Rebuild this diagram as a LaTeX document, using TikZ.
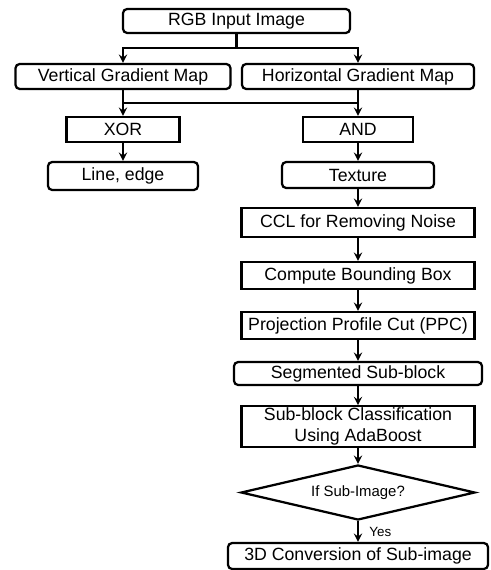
\documentclass[tikz,border=0pt]{standalone}
\usepackage{fontspec}
\setmainfont{Liberation Sans}
\usepackage{tikz}
\usetikzlibrary{positioning, calc}
\usetikzlibrary{arrows,shapes,backgrounds}

\begin{document}
\begin{tikzpicture}[x=0.025cm,y=-0.025cm,>=stealth,line width=1.6pt]
\tikzstyle{stepbox}=[draw, rectangle, minimum width=5.825cm, minimum height=0.675cm,
                     inner sep=1pt, font=\fontsize{12.6}{15}\selectfont]
\tikzstyle{roundbox}=[stepbox, rounded corners=3pt]
\tikzstyle{decision}=[draw, diamond, shape aspect=4.25, minimum width=5.85cm, minimum height=1.375cm,
                      inner sep=0pt, font=\fontsize{10.6}{12}\selectfont]
\useasboundingbox (0,0) rectangle (491,570);
% top part
\node [roundbox, minimum width=5.675cm, minimum height=0.6cm] (rgb) at (236.5,21) {RGB Input Image};
\node [roundbox, minimum width=5.375cm, minimum height=0.625cm] (vgm) at (123,76.5) {Vertical Gradient Map};
\node [roundbox, minimum width=5.8cm, minimum height=0.625cm] (hgm) at (358,76.5) {Horizontal Gradient Map};
\node [stepbox, minimum width=2.825cm, minimum height=0.625cm] (xor) at (123,129.5) {XOR};
\node [stepbox, minimum width=2.75cm, minimum height=0.625cm] (and) at (358,129.5) {AND};
\node [roundbox, minimum width=3.75cm, minimum height=0.7cm] (line) at (123,176) {Line, edge};
\node [roundbox, minimum width=3.8cm, minimum height=0.65cm] (texture) at (358,175) {Texture};
% right column
\node [stepbox, minimum height=0.725cm] (ccl) at (358,222.5) {CCL for Removing Noise};
\node [stepbox] (cbb) at (358,275.5) {Compute Bounding Box};
\node [stepbox] (ppc) at (358,325.5) {Projection Profile Cut (PPC)};
\node [roundbox, minimum width=6.2cm, minimum height=0.575cm] (seg) at (358,373.5) {Segmented Sub-block};
\node [stepbox, minimum height=0.975cm, align=center] (cls) at (358,426.5) {Sub-block Classification\\Using AdaBoost};
\node [decision] (sub) at (358,492.5) {If Sub-Image?};
\node [roundbox, minimum width=6.5cm, minimum height=0.65cm] (conv) at (358,556) {3D Conversion of Sub-image};
% connectors
\coordinate (split) at (236.5,48);
\coordinate (jl) at (123,103);
\coordinate (jr) at (358,103);
\draw (rgb.south) -- (split);
\draw [->] (split) -| (vgm.north);
\draw [->] (split) -| (hgm.north);
\draw (vgm.south) -- (jl) -- (jr) -- (hgm.south);
\draw [->] (jl) -- (xor);
\draw [->] (jr) -- (and);
\draw [->] (xor) -- (line);
\draw [->] (and) -- (texture);
\draw [->] (texture) -- (ccl);
\draw [->] (ccl) -- (cbb);
\draw [->] (cbb) -- (ppc);
\draw [->] (ppc) -- (seg);
\draw [->] (seg) -- (cls);
\draw [->] (cls) -- (sub);
\draw [->] (sub) -- node [right=4pt, font=\fontsize{9.5}{11}\selectfont] {Yes} (conv);
\end{tikzpicture}
\end{document}
